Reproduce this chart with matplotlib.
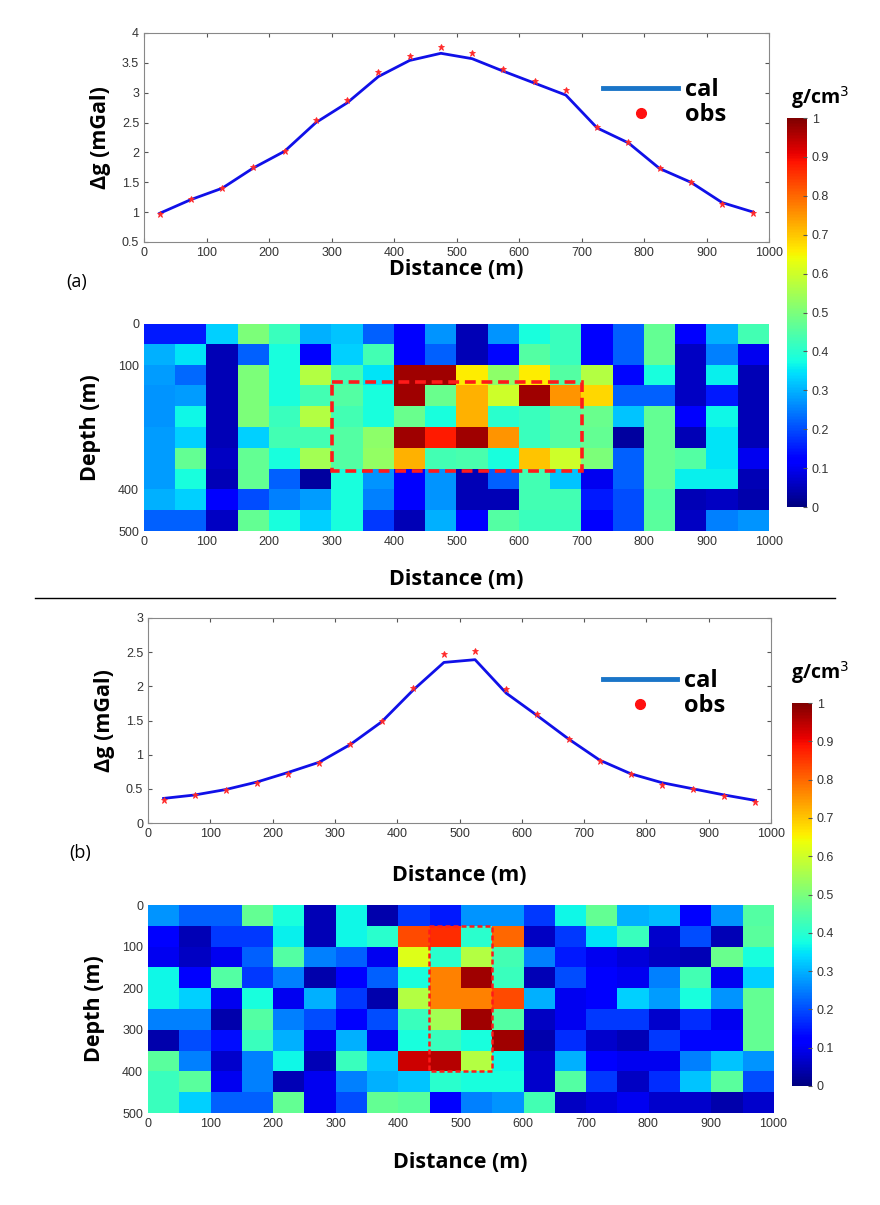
import numpy as np
import matplotlib
matplotlib.use('Agg')
import matplotlib.pyplot as plt
from matplotlib.lines import Line2D
from matplotlib.patches import Rectangle

# ---- data ----
stations = [25, 75, 125, 175, 225, 275, 325, 375, 425, 475,
            525, 575, 625, 675, 725, 775, 825, 875, 925, 975]

obs_a = [0.97, 1.22, 1.40, 1.75, 2.03, 2.55, 2.87, 3.34, 3.61, 3.76,
         3.66, 3.40, 3.20, 3.05, 2.42, 2.17, 1.74, 1.51, 1.13, 0.99]
cal_a = [0.98, 1.21, 1.40, 1.74, 2.02, 2.50, 2.83, 3.27, 3.54, 3.66,
         3.57, 3.36, 3.16, 2.96, 2.41, 2.16, 1.73, 1.50, 1.16, 1.00]

obs_b = [0.34, 0.41, 0.48, 0.59, 0.71, 0.88, 1.15, 1.49, 1.98, 2.47,
         2.52, 1.96, 1.60, 1.23, 0.91, 0.72, 0.56, 0.50, 0.39, 0.31]
cal_b = [0.36, 0.41, 0.49, 0.60, 0.74, 0.89, 1.15, 1.48, 1.94, 2.35,
         2.39, 1.90, 1.57, 1.23, 0.92, 0.72, 0.59, 0.50, 0.41, 0.33]

# density model, 10 depth rows (0-500 m) x 20 columns (0-1000 m)
rho_a = [
    [0.15, 0.15, 0.33, 0.50, 0.42, 0.30, 0.32, 0.22, 0.12, 0.27, 0.05, 0.27, 0.38, 0.42, 0.12, 0.22, 0.47, 0.12, 0.30, 0.43],
    [0.30, 0.35, 0.05, 0.22, 0.38, 0.12, 0.33, 0.43, 0.12, 0.22, 0.05, 0.13, 0.45, 0.42, 0.12, 0.22, 0.47, 0.06, 0.25, 0.10],
    [0.28, 0.23, 0.05, 0.50, 0.38, 0.57, 0.43, 0.35, 0.97, 0.97, 0.66, 0.52, 0.66, 0.45, 0.57, 0.13, 0.38, 0.06, 0.36, 0.05],
    [0.27, 0.28, 0.05, 0.50, 0.38, 0.43, 0.45, 0.38, 0.97, 0.48, 0.72, 0.60, 0.97, 0.75, 0.68, 0.22, 0.22, 0.06, 0.15, 0.05],
    [0.27, 0.37, 0.05, 0.50, 0.42, 0.57, 0.43, 0.38, 0.48, 0.38, 0.72, 0.40, 0.42, 0.45, 0.48, 0.32, 0.47, 0.12, 0.37, 0.05],
    [0.28, 0.33, 0.05, 0.33, 0.43, 0.43, 0.45, 0.52, 0.97, 0.88, 0.97, 0.75, 0.42, 0.45, 0.47, 0.03, 0.47, 0.05, 0.35, 0.05],
    [0.28, 0.47, 0.06, 0.47, 0.38, 0.55, 0.45, 0.53, 0.72, 0.43, 0.44, 0.38, 0.70, 0.60, 0.50, 0.22, 0.47, 0.45, 0.35, 0.10],
    [0.28, 0.38, 0.05, 0.47, 0.22, 0.03, 0.38, 0.27, 0.12, 0.27, 0.05, 0.22, 0.43, 0.32, 0.10, 0.22, 0.47, 0.36, 0.36, 0.05],
    [0.30, 0.33, 0.12, 0.20, 0.25, 0.28, 0.38, 0.25, 0.12, 0.27, 0.05, 0.05, 0.43, 0.43, 0.15, 0.20, 0.45, 0.05, 0.06, 0.04],
    [0.22, 0.22, 0.06, 0.47, 0.38, 0.33, 0.38, 0.18, 0.05, 0.30, 0.12, 0.45, 0.42, 0.42, 0.12, 0.20, 0.46, 0.06, 0.25, 0.27],
]
rho_b = [
    [0.27, 0.22, 0.22, 0.47, 0.38, 0.05, 0.37, 0.04, 0.18, 0.15, 0.27, 0.27, 0.18, 0.37, 0.47, 0.30, 0.31, 0.12, 0.27, 0.45],
    [0.12, 0.05, 0.18, 0.18, 0.36, 0.05, 0.37, 0.40, 0.83, 0.86, 0.40, 0.80, 0.06, 0.18, 0.35, 0.42, 0.07, 0.20, 0.05, 0.46],
    [0.10, 0.06, 0.10, 0.22, 0.45, 0.25, 0.22, 0.10, 0.62, 0.40, 0.57, 0.43, 0.25, 0.15, 0.10, 0.08, 0.06, 0.05, 0.48, 0.38],
    [0.37, 0.12, 0.45, 0.18, 0.25, 0.04, 0.12, 0.22, 0.38, 0.77, 0.97, 0.42, 0.05, 0.20, 0.12, 0.10, 0.25, 0.43, 0.10, 0.33],
    [0.37, 0.33, 0.10, 0.38, 0.10, 0.30, 0.18, 0.04, 0.57, 0.77, 0.77, 0.83, 0.30, 0.10, 0.12, 0.33, 0.28, 0.38, 0.27, 0.47],
    [0.25, 0.25, 0.04, 0.45, 0.25, 0.20, 0.12, 0.20, 0.42, 0.55, 0.97, 0.45, 0.06, 0.10, 0.18, 0.18, 0.07, 0.17, 0.10, 0.47],
    [0.04, 0.20, 0.14, 0.42, 0.30, 0.10, 0.30, 0.10, 0.38, 0.42, 0.38, 0.97, 0.04, 0.17, 0.07, 0.05, 0.18, 0.13, 0.13, 0.47],
    [0.46, 0.25, 0.07, 0.25, 0.37, 0.05, 0.42, 0.32, 0.93, 0.95, 0.57, 0.37, 0.07, 0.30, 0.12, 0.10, 0.10, 0.25, 0.32, 0.27],
    [0.42, 0.46, 0.10, 0.25, 0.05, 0.10, 0.25, 0.30, 0.32, 0.40, 0.38, 0.38, 0.07, 0.45, 0.18, 0.06, 0.17, 0.32, 0.46, 0.20],
    [0.42, 0.33, 0.22, 0.22, 0.47, 0.10, 0.20, 0.47, 0.46, 0.12, 0.25, 0.27, 0.43, 0.06, 0.08, 0.10, 0.07, 0.07, 0.04, 0.07],
]

# anomaly boxes: (x0, depth0, width, height)
box_a = (300, 140, 400, 215)
box_b = (450, 50, 100, 350)

dist_ticks = [0, 100, 200, 300, 400, 500, 600, 700, 800, 900, 1000]
cbar_ticks = [0, 0.1, 0.2, 0.3, 0.4, 0.5, 0.6, 0.7, 0.8, 0.9, 1]

W, H = 880, 1205
LBL = dict(fontsize=15.5, fontweight='bold', family='Open Sans')
TICKFONT = 'Liberation Sans'
TICKCOL = '#333333'


def fr(x0, y0, x1, y1):
    # pixel box -> figure fraction rect
    return [x0 / W, 1 - y1 / H, (x1 - x0) / W, (y1 - y0) / H]


def style_axes(ax):
    ax.tick_params(direction='in', top=True, right=True, labelsize=9,
                   labelcolor=TICKCOL, color='#555555', length=3)
    for lab in ax.get_xticklabels() + ax.get_yticklabels():
        lab.set_family(TICKFONT)
    for s in ax.spines.values():
        s.set_color('#888888')
        s.set_linewidth(0.8)


def profile(rect, obs, cal, ylim, yticks, leg_anchor, xpad):
    ax = fig.add_axes(rect)
    ax.plot(stations, cal, '-', color='#1010e8', lw=2)
    ax.plot(stations, obs, '*', color='#ff2a2a', ms=5, mew=0.6)
    ax.set_xlim(0, 1000)
    ax.set_ylim(*ylim)
    ax.set_xticks(dist_ticks)
    ax.set_yticks(yticks)
    ax.set_yticklabels(['%g' % t for t in yticks])
    ax.set_xlabel('Distance (m)', labelpad=xpad, **LBL)
    ax.set_ylabel('Δg (mGal)', labelpad=8, **LBL)
    style_axes(ax)
    handles = [Line2D([], [], color='#1a75c8', lw=3.5),
               Line2D([], [], color='#ff1010', marker='o', ls='', ms=7)]
    ax.legend(handles, ['cal', 'obs'], loc='upper left', bbox_to_anchor=leg_anchor,
              frameon=False, handlelength=3.15, handletextpad=0.3, labelspacing=0.05,
              borderpad=0, borderaxespad=0,
              prop=dict(family='Open Sans', weight='bold', size=17))
    return ax


def model(rect, rho, box, yticks, box_ls, box_lw, xpad):
    ax = fig.add_axes(rect)
    im = ax.imshow(np.array(rho), cmap='jet', vmin=0, vmax=1, aspect='auto',
                   interpolation='nearest', extent=[0, 1000, 500, 0])
    x0, d0, w, h = box
    ax.add_patch(Rectangle((x0, d0), w, h, fill=False, ec='#ff1a1a',
                           ls=box_ls, lw=box_lw))
    ax.set_xticks(dist_ticks)
    ax.set_yticks(yticks)
    ax.set_xlabel('Distance (m)', labelpad=xpad, **LBL)
    ax.set_ylabel('Depth (m)', labelpad=12, **LBL)
    style_axes(ax)
    ax.tick_params(length=0)
    for s in ax.spines.values():
        s.set_visible(False)
    return im


def colorbar(im, rect, unit_xy):
    cax = fig.add_axes(rect)
    cb = fig.colorbar(im, cax=cax, ticks=cbar_ticks)
    cb.ax.set_yticklabels(['%g' % t for t in cbar_ticks])
    cb.outline.set_visible(False)
    cb.ax.tick_params(labelsize=9, labelcolor=TICKCOL, length=3, direction='in',
                      color='#555555')
    for lab in cb.ax.get_yticklabels():
        lab.set_family(TICKFONT)
    fig.text(unit_xy[0] / W, 1 - unit_xy[1] / H, 'g/cm$^3$', ha='center', va='center',
             fontsize=14, fontweight='bold', family='Open Sans')


fig = plt.figure(figsize=(W / 100, H / 100), dpi=100)

# (a)
profile(fr(144, 33, 769, 242), obs_a, cal_a, (0.5, 4),
        [0.5, 1, 1.5, 2, 2.5, 3, 3.5, 4], (0.735, 0.785), 0)
im_a = model(fr(144, 324, 769, 531), rho_a, box_a, [0, 100, 400, 500],
             (0, (3, 1.6)), 2.6, 15)
colorbar(im_a, fr(787, 118, 807, 507), (820, 98))
fig.text(77 / W, 1 - 282 / H, '(a)', ha='center', va='center', fontsize=13, family='Open Sans')

# separator
fig.add_artist(Line2D([35 / W, 835 / W], [1 - 598 / H] * 2, color='k', lw=1))

# (b)
profile(fr(148, 618, 771, 823), obs_b, cal_b, (0, 3),
        [0, 0.5, 1, 1.5, 2, 2.5, 3], (0.73, 0.75), 18)
im_b = model(fr(148, 905, 773, 1113), rho_b, box_b, [0, 100, 200, 300, 400, 500],
             (0, (2, 1.2)), 1.8, 16)
colorbar(im_b, fr(792, 703, 812, 1086), (820, 673))
fig.text(80 / W, 1 - 853 / H, '(b)', ha='center', va='center', fontsize=13, family='Open Sans')

fig.savefig('out.png', dpi=100)
